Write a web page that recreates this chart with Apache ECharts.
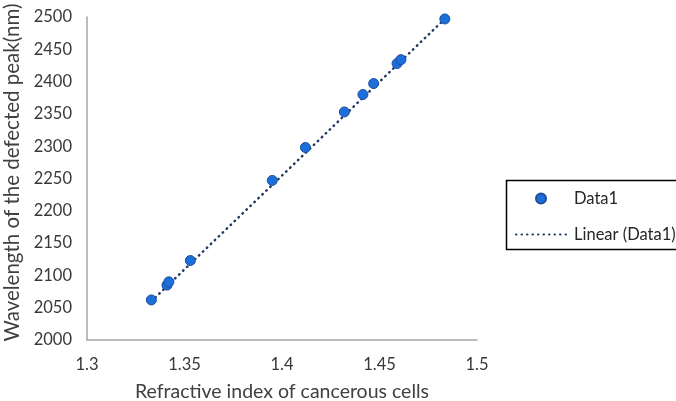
<!DOCTYPE html>
<html>
<head>
<meta charset="utf-8">
<script src="https://cdn.jsdelivr.net/npm/echarts@6/dist/echarts.min.js"></script>
<style>html,body{margin:0;padding:0;background:#fff;}#c{width:676px;height:401px;}</style>
</head>
<body>
<div id="c"></div>
<script>
const refractiveIndex = [1.333, 1.341, 1.342, 1.353, 1.395, 1.412, 1.432, 1.4415, 1.447, 1.459, 1.461, 1.4835];
const wavelength = [2062, 2085, 2090, 2123, 2247, 2298, 2353, 2380, 2397, 2428, 2434, 2497];
const trendX = [1.333, 1.4835];
const trendY = [2060, 2497];
const xTicks = [1.3, 1.35, 1.4, 1.45, 1.5];
const yTicks = [2000, 2050, 2100, 2150, 2200, 2250, 2300, 2350, 2400, 2450, 2500];
const seriesNames = ['Data1', 'Linear (Data1)'];

const FONT = 'Lato';
const chart = echarts.init(document.getElementById('c'), null, {renderer: 'canvas'});
chart.setOption({
  animation: false,
  backgroundColor: '#fff',
  grid: {left: 87, right: 199, top: 17, bottom: 61, containLabel: false, outerBoundsMode: 'none'},
  xAxis: {
    type: 'value', min: xTicks[0], max: xTicks[xTicks.length - 1], interval: 0.05,
    name: 'Refractive index of cancerous cells', nameLocation: 'middle', nameGap: 42,
    nameTextStyle: {fontFamily: FONT, fontSize: 19.5, color: '#404040'},
    axisLine: {show: true, onZero: false, lineStyle: {color: '#A6A6A6', width: 1.5}},
    axisTick: {show: false}, splitLine: {show: false},
    axisLabel: {fontFamily: FONT, fontSize: 16.5, color: '#383838', margin: 16,
      formatter: v => String(parseFloat(v.toFixed(2)))}
  },
  yAxis: {
    type: 'value', min: yTicks[0], max: yTicks[yTicks.length - 1], interval: 50,
    name: 'Wavelength of the defected peak(nm)', nameLocation: 'middle', nameGap: 63,
    nameTextStyle: {fontFamily: FONT, fontSize: 20.5, color: '#404040', padding: [0, 0, 0, 12]},
    axisLine: {show: true, onZero: false, lineStyle: {color: '#A6A6A6', width: 1.5}},
    axisTick: {show: false}, splitLine: {show: false},
    axisLabel: {fontFamily: FONT, fontSize: 16.5, color: '#383838', margin: 15,
      formatter: v => String(v)}
  },
  graphic: [{
    type: 'rect', left: 504, top: 178, z: 0,
    shape: {width: 220, height: 69},
    style: {fill: 'none', stroke: '#000', lineWidth: 1.5}
  }],
  legend: {
    orient: 'vertical', left: 504, top: 178,
    padding: [12, 10, 12, 11], itemGap: 19, itemWidth: 50, itemHeight: 10,
    borderWidth: 0,
    textStyle: {fontFamily: FONT, fontSize: 16.5, color: '#262626', padding: [0, 0, 0, 3]},
    data: [
      {name: seriesNames[0], icon: 'circle'},
      {name: seriesNames[1], itemStyle: {opacity: 0, borderWidth: 0}}
    ]
  },
  series: [
    {
      name: seriesNames[1], type: 'line', showSymbol: false, symbol: 'none', z: 1,
      data: trendX.map((x, i) => [x, trendY[i]]),
      lineStyle: {color: '#1F3864', width: 2.5, type: [0.5, 5], cap: 'round'},
      itemStyle: {color: '#1F3864'}
    },
    {
      name: seriesNames[0], type: 'scatter', symbol: 'circle', symbolSize: 10, z: 2,
      data: refractiveIndex.map((x, i) => [x, wavelength[i]]),
      itemStyle: {color: '#1A6FDB', borderColor: '#1F4E9A', borderWidth: 1, opacity: 1}
    }
  ]
});
</script>
</body>
</html>
